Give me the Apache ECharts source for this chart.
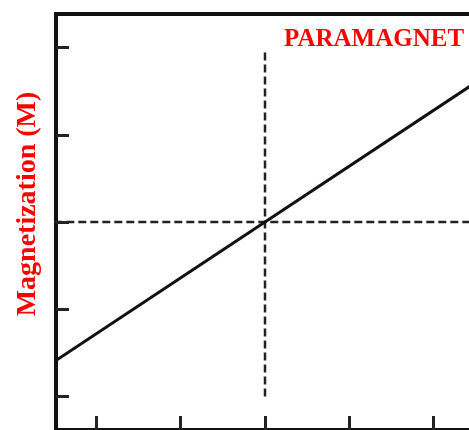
<!DOCTYPE html>
<html>
<head>
<meta charset="utf-8">
<script src="https://cdn.jsdelivr.net/npm/echarts@6/dist/echarts.min.js"></script>
<style>
  html, body { margin: 0; padding: 0; background: #fff; }
  #chart { width: 469px; height: 430px; }
</style>
</head>
<body>
<div id="chart"></div>
<script>
// Field (H) axis ticks and magnetization (M) axis ticks
const fieldTicks = [-2, -1, 0, 1, 2];
const magTicks = [-2, -1, 0, 1, 2];

// Linear paramagnetic response M = chi * H
const fieldValues = [-2.5, 2.5];
const magValues = [-1.6, 1.6];

// Dashed reference axes through the origin
const zeroFieldLine = [[0, -2.0], [0, 1.95]];
const zeroMagLine = [[-2.5, 0], [2.5, 0]];

const chart = echarts.init(document.getElementById('chart'));

const serif = 'Liberation Serif';

chart.setOption({
  animation: false,
  title: {
    text: 'PARAMAGNET',
    left: 279,
    top: 22,
    textStyle: {
      color: '#ff0000',
      fontFamily: serif,
      fontWeight: 'bold',
      fontSize: 25
    }
  },
  grid: {
    left: 56,
    right: -5,
    top: 14,
    bottom: 0,
    outerBoundsMode: 'none',
    show: true,
    borderWidth: 4,
    borderColor: '#111',
    backgroundColor: '#fff'
  },
  xAxis: {
    type: 'value',
    min: -2.48,
    max: 2.48,
    axisLine: { show: false, onZero: false },
    splitLine: { show: false },
    axisLabel: { show: false },
    axisTick: {
      show: true,
      inside: true,
      length: 14,
      customValues: fieldTicks,
      lineStyle: { color: '#222', width: 3 }
    }
  },
  yAxis: {
    type: 'value',
    min: -2.385,
    max: 2.385,
    name: 'Magnetization (M)',
    nameLocation: 'middle',
    nameRotate: 90,
    nameGap: 14,
    nameTextStyle: {
      color: '#ff0000',
      fontFamily: serif,
      fontWeight: 'bold',
      fontSize: 28,
      padding: [0, 0, 0, 36]
    },
    axisLine: { show: false, onZero: false },
    splitLine: { show: false },
    axisLabel: { show: false },
    axisTick: {
      show: true,
      inside: true,
      length: 13,
      customValues: magTicks,
      lineStyle: { color: '#222', width: 3 }
    }
  },
  series: [
    {
      type: 'line',
      data: zeroFieldLine,
      symbol: 'none',
      silent: true,
      lineStyle: { color: '#222', width: 2.5, type: [8, 4] }
    },
    {
      type: 'line',
      data: zeroMagLine,
      symbol: 'none',
      silent: true,
      lineStyle: { color: '#222', width: 2.5, type: [8, 4] }
    },
    {
      type: 'line',
      data: fieldValues.map((h, i) => [h, magValues[i]]),
      symbol: 'none',
      silent: true,
      lineStyle: { color: '#111', width: 3 }
    }
  ]
});
</script>
</body>
</html>
